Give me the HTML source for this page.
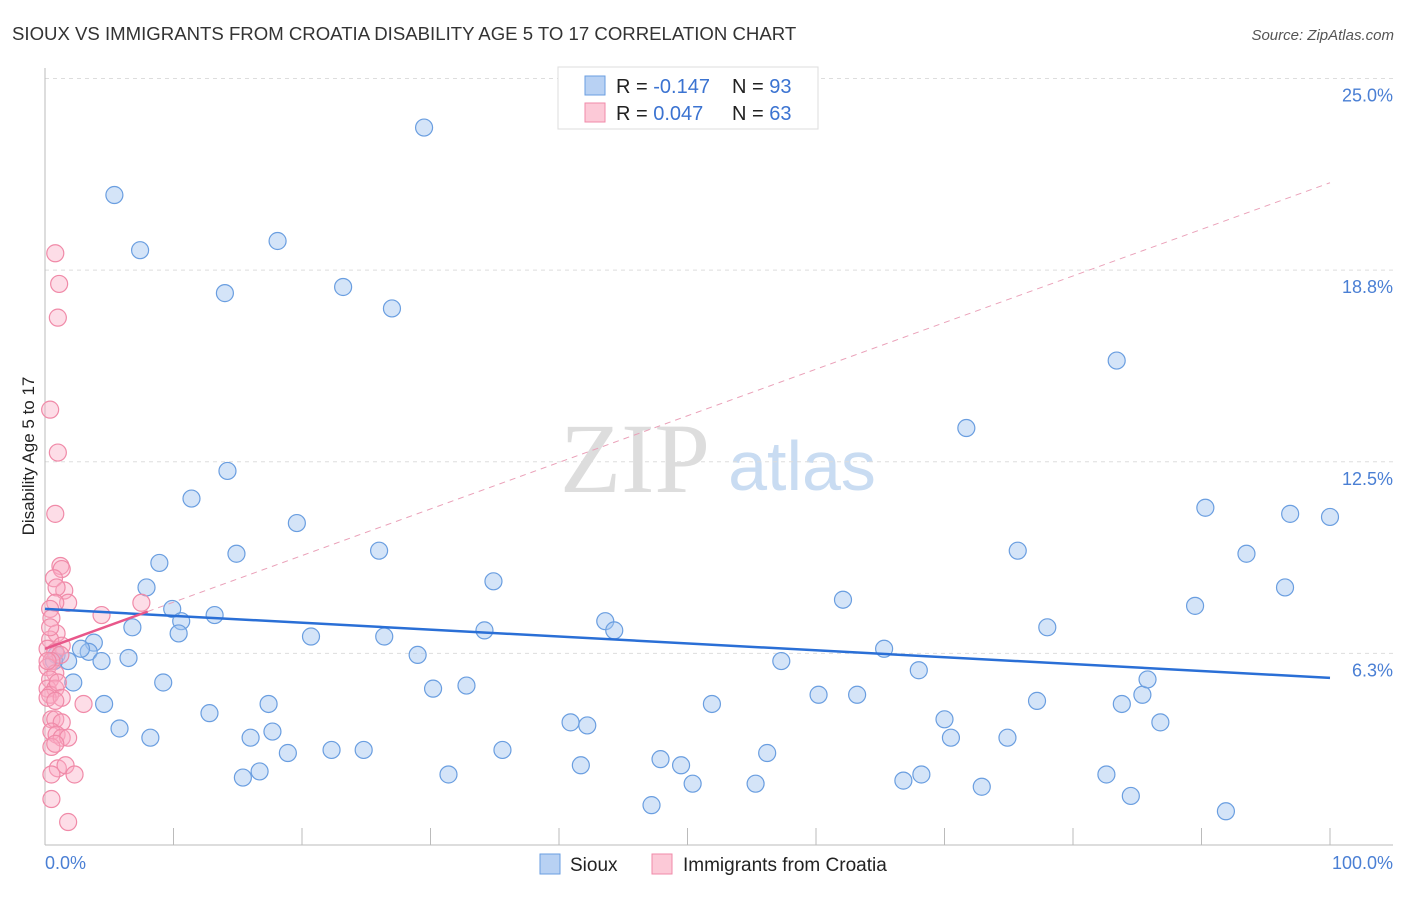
<!DOCTYPE html>
<html><head><meta charset="utf-8"><style>
body{margin:0;background:#fff;font-family:"Liberation Sans",sans-serif;}
svg text{font-family:"Liberation Sans",sans-serif;}
</style></head><body>
<svg id="chart" width="1406" height="892" xmlns="http://www.w3.org/2000/svg">
<text x="12" y="40" font-size="18.6" fill="#333">SIOUX VS IMMIGRANTS FROM CROATIA DISABILITY AGE 5 TO 17 CORRELATION CHART</text>
<text x="1394" y="40" font-size="15" fill="#555" font-style="italic" text-anchor="end">Source: ZipAtlas.com</text>
<text x="635" y="492" font-size="100" fill="#ddd" style="font-family:'Liberation Serif',serif" text-anchor="middle">ZIP</text>
<text x="802" y="490" font-size="70" fill="#c9dcf2" text-anchor="middle">atlas</text>
<g id="grid"></g><g id="axes"></g><g id="pts"></g><g id="lines"></g>
<text transform="translate(34,456) rotate(-90)" font-size="17" fill="#222" text-anchor="middle">Disability Age 5 to 17</text>
<text x="45" y="869" font-size="18" fill="#4a7fd4">0.0%</text>
<text x="1393" y="869" font-size="18" fill="#4a7fd4" text-anchor="end">100.0%</text>
<g>
<rect x="558" y="67" width="260" height="62" fill="#fff" stroke="#ddd"/>
<rect x="585" y="76" width="20" height="19" fill="#b8d1f3" stroke="#6a9ee0"/>
<rect x="585" y="103" width="20" height="19" fill="#fcc9d7" stroke="#f08aa8"/>
<text x="616" y="93" font-size="20" fill="#222">R = <tspan fill="#3b73d1">-0.147</tspan></text>
<text x="732" y="93" font-size="20" fill="#222">N = <tspan fill="#3b73d1">93</tspan></text>
<text x="616" y="120" font-size="20" fill="#222">R = <tspan fill="#3b73d1"> 0.047</tspan></text>
<text x="732" y="120" font-size="20" fill="#222">N = <tspan fill="#3b73d1">63</tspan></text>
</g>
<g>
<rect x="540" y="854" width="20" height="20" fill="#b8d1f3" stroke="#6a9ee0"/>
<text x="570" y="871" font-size="19" fill="#222">Sioux</text></g>
<g>
<rect x="652" y="854" width="20" height="20" fill="#fcc9d7" stroke="#f08aa8"/>
<text x="683" y="871" font-size="19" fill="#222">Immigrants from Croatia</text></g>
</svg>
<script>
const yTicks=[6.25,12.5,18.75,25];
const yTickLabels=["6.3%","12.5%","18.8%","25.0%"];
const siouxX=[5.4,7.4,14.0,18.1,23.2,27.0,29.5,83.4,71.7,14.2,11.4,19.6,14.9,26.0,8.9,34.9,7.9,9.9,13.2,10.6,10.4,6.8,3.8,3.4,2.8,0.9,1.8,4.4,6.5,0.7,2.2,9.2,20.7,26.4,29.0,34.2,43.6,44.3,30.2,32.8,17.4,4.6,12.8,5.8,8.2,16.0,17.7,18.9,22.3,24.8,35.6,40.9,42.2,15.4,16.7,31.4,41.7,47.9,49.5,50.4,47.2,55.3,56.2,51.9,57.3,62.1,65.3,68.0,60.2,63.2,70.0,70.5,66.8,68.2,72.9,74.9,77.2,78.0,75.7,82.6,84.5,83.8,85.4,85.8,86.8,89.5,90.3,91.9,93.5,96.5,96.9,100];
const siouxY=[21.2,19.4,18.0,19.7,18.2,17.5,23.4,15.8,13.6,12.2,11.3,10.5,9.5,9.6,9.2,8.6,8.4,7.7,7.5,7.3,6.9,7.1,6.6,6.3,6.4,6.2,6.0,6.0,6.1,6.0,5.3,5.3,6.8,6.8,6.2,7.0,7.3,7.0,5.1,5.2,4.6,4.6,4.3,3.8,3.5,3.5,3.7,3.0,3.1,3.1,3.1,4.0,3.9,2.2,2.4,2.3,2.6,2.8,2.6,2.0,1.3,2.0,3.0,4.6,6.0,8.0,6.4,5.7,4.9,4.9,4.1,3.5,2.1,2.3,1.9,3.5,4.7,7.1,9.6,2.3,1.6,4.6,4.9,5.4,4.0,7.8,11.0,1.1,9.5,8.4,10.8,10.7];
const croX=[0.8,1.1,1.0,0.4,1.0,0.8,1.2,1.3,0.7,1.5,0.9,1.8,0.8,0.4,0.5,7.5,4.4,0.9,0.4,1.3,0.2,0.8,1.2,0.5,0.2,0.8,0.4,0.2,0.8,0.4,1.0,0.2,3.0,1.3,0.5,0.8,1.3,0.5,0.9,1.3,1.8,0.5,0.8,1.0,1.6,0.5,2.3,0.5,1.8,0.8,0.2,0.4];
const croY=[19.3,18.3,17.2,14.2,12.8,10.8,9.1,9.0,8.7,8.3,8.4,7.9,7.9,7.7,7.4,7.9,7.5,6.9,6.7,6.5,6.4,6.3,6.2,6.0,5.8,5.6,5.4,5.1,5.1,4.9,5.3,4.8,4.6,4.8,4.1,4.1,4.0,3.7,3.6,3.5,3.5,3.2,3.3,2.5,2.6,2.3,2.3,1.5,0.75,4.7,6.0,7.1];
const siouxTrend=[7.7,5.45];
const croTrend=[6.4,21.6];
const croSolidEnd=8;
const X=v=>45+v*12.85, Y=v=>845-v*30.66;
const NS="http://www.w3.org/2000/svg";
function mk(t,a,p){const e=document.createElementNS(NS,t);for(const k in a)e.setAttribute(k,a[k]);p.appendChild(e);return e;}
const grid=document.getElementById('grid'),axes=document.getElementById('axes'),pts=document.getElementById('pts'),lines=document.getElementById('lines');
yTicks.forEach((t,i)=>{
 const l=mk('line',{x1:45,x2:1393,y1:Y(t),y2:Y(t),stroke:'#ddd','stroke-dasharray':'4,4'},grid);
 
 
 const tx=mk('text',{x:1393,y:Y(t)+23,'font-size':18,fill:'#4a7fd4','text-anchor':'end'},grid);
 tx.textContent=yTickLabels[i];
 
 
});
const ya=mk('line',{x1:45,x2:45,y1:68,y2:845,stroke:'#bbb'},axes);


const xa=mk('line',{x1:45,x2:1393,y1:845,y2:845,stroke:'#bbb'},axes);


for(let i=0;i<=10;i++){const t=mk('line',{x1:X(i*10),x2:X(i*10),y1:828,y2:845,stroke:'#bbb'},axes);
 
 }
siouxX.forEach((x,i)=>{const c=mk('circle',{cx:X(x),cy:Y(siouxY[i]),r:8.5,fill:'rgba(160,195,240,0.45)',stroke:'#6a9ee0','stroke-width':1.2},pts);
 
 });
croX.forEach((x,i)=>{const c=mk('circle',{cx:X(x),cy:Y(croY[i]),r:8.5,fill:'rgba(250,170,195,0.4)',stroke:'#f08aa8','stroke-width':1.2},pts);
 
 });
const s=mk('line',{x1:X(0),y1:Y(siouxTrend[0]),x2:X(100),y2:Y(siouxTrend[1]),stroke:'#2a6fd6','stroke-width':2.5},lines);


const cy=v=>croTrend[0]+(croTrend[1]-croTrend[0])*v/100;
const c1=mk('line',{x1:X(0),y1:Y(cy(0)),x2:X(croSolidEnd),y2:Y(cy(croSolidEnd)),stroke:'#e8578a','stroke-width':2.5},lines);


const c2=mk('line',{x1:X(croSolidEnd),y1:Y(cy(croSolidEnd)),x2:X(100),y2:Y(cy(100)),stroke:'#eaa0b8','stroke-width':1,'stroke-dasharray':'6,5'},lines);


</script>
</body></html>
